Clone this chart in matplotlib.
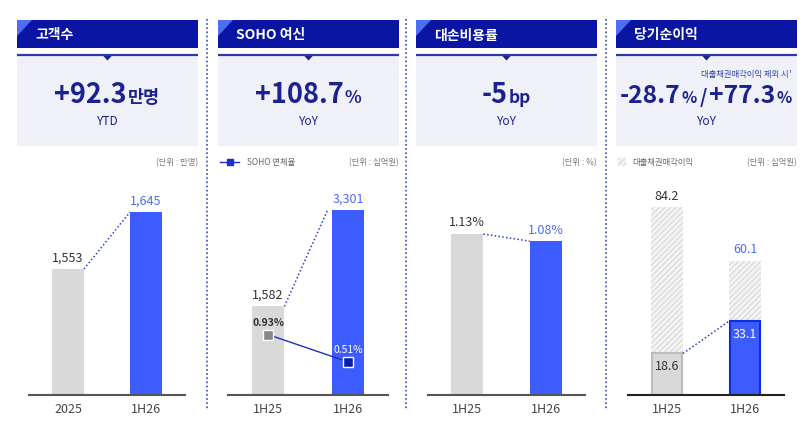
import matplotlib
matplotlib.use('Agg')
import matplotlib.pyplot as plt
from matplotlib.patches import Rectangle, Polygon

plt.rcParams['font.family'] = ['Noto Sans CJK KR', 'DejaVu Sans']
plt.rcParams['hatch.linewidth'] = 0.7

W, H, DPI = 805, 431, 100

# ---------------- data ----------------
titles = ['고객수', 'SOHO 여신', '대손비용률', '당기순이익']
units = ['(단위 : 만명)', '(단위 : 십억원)', '(단위 : %)', '(단위 : 십억원)']
headline_segments = [
    [('+92.3', 'big'), ('만명', 'small')],
    [('+108.7', 'big'), ('%', 'small')],
    [('-5', 'big'), ('bp', 'small')],
    [('-28.7', 'big'), ('%', 'small'), ('/', 'mid'), ('+77.3', 'big'), ('%', 'small')],
]
headline_scale = [1.0, 1.0, 1.0, 0.91]
headline_sub = ['YTD', 'YoY', 'YoY', 'YoY']
np_note = '대출채권매각이익 제외 시¹'

cust_cats = ['2025', '1H26']
cust_vals = [1553, 1645]
cust_labels = ['1,553', '1,645']

soho_cats = ['1H25', '1H26']
soho_vals = [1582, 3301]
soho_labels = ['1,582', '3,301']
soho_delinq = [0.93, 0.51]
soho_delinq_labels = ['0.93%', '0.51%']
soho_legend = 'SOHO 연체율'

credit_cats = ['1H25', '1H26']
credit_vals = [1.13, 1.08]
credit_labels = ['1.13%', '1.08%']

np_cats = ['1H25', '1H26']
np_total = [84.2, 60.1]
np_excl = [18.6, 33.1]
np_total_labels = ['84.2', '60.1']
np_excl_labels = ['18.6', '33.1']
np_legend = '대출채권매각이익'

# ---------------- style ----------------
HEADER = '#0a15a3'
CORNER = '#4c6ef5'
NAVY = '#1a2290'
LIGHTBOX = '#f0f1f8'
GRAY_BAR = '#d9d9d9'
BLUE_BAR = '#3d5cff'
BLUE_TXT = '#4a6cf7'
DARK_TXT = '#333333'
TICK_TXT = '#444444'
DOT_BLUE = '#2a3fd0'
HATCH_FACE = '#f4f4f4'
HATCH_EDGE = '#d3d3d3'

fig = plt.figure(figsize=(W / DPI, H / DPI), dpi=DPI)
fig.patch.set_facecolor('white')

bg = fig.add_axes([0, 0, 1, 1], zorder=-5)
bg.set_xlim(0, W)
bg.set_ylim(H, 0)
bg.axis('off')

panels_x = [(17, 198), (218, 399), (416, 597), (616, 797)]
seps = [207, 406, 606]

for sx in seps:
    bg.plot([sx, sx], [20, 410], color='#3344cc', lw=1.2, linestyle=(0, (1, 1.5)))

renderer = fig.canvas.get_renderer()
sizes = {'big': 19.5, 'small': 12.5, 'mid': 15}
pads = {'big': 0, 'small': 1, 'mid': 2}


def seg_text(segs, cx, base_y, color, scale):
    texts, widths = [], []
    for s, kind in segs:
        t = fig.text(0, 0, s, fontsize=sizes[kind] * scale, fontweight='bold', color=color,
                     ha='left', va='baseline')
        bb = t.get_window_extent(renderer)
        texts.append(t)
        widths.append(bb.width + 2 * pads[kind])
    total = sum(widths)
    x = cx - total / 2
    for t, w, (s, kind) in zip(texts, widths, segs):
        t.set_position(((x + pads[kind]) / W, 1 - base_y / H))
        x += w


for i, (l, r) in enumerate(panels_x):
    cx = (l + r) / 2
    bg.add_patch(Rectangle((l, 21), r - l, 28, color=HEADER, lw=0))
    bg.add_patch(Polygon([(l, 21), (l + 15, 21), (l, 37)], closed=True, color=CORNER, lw=0))
    bg.text(l + 18, 35.5, titles[i], color='white', fontsize=10, fontweight='bold',
            ha='left', va='center')
    bg.add_patch(Rectangle((l, 55), r - l, 92, color=LIGHTBOX, lw=0))
    bg.plot([l, r], [55.5, 55.5], color='#2b3aa8', lw=1.6, solid_capstyle='butt')
    bg.add_patch(Polygon([(cx - 6, 55), (cx + 6, 55), (cx, 61.5)], closed=True, color=NAVY, lw=0))
    seg_text(headline_segments[i], cx, 103, NAVY, headline_scale[i])
    bg.text(cx, 122, headline_sub[i], color=NAVY, fontsize=8.5, ha='center', va='center')
    bg.text(r, 163, units[i], color='#777777', fontsize=6, ha='right', va='center')

bg.text(panels_x[3][1] - 5, 75, np_note, color='#3344aa', fontsize=6, ha='right', va='center')

# legends
l2 = panels_x[1][0]
bg.plot([l2 + 2, l2 + 21], [163, 163], color='#1a30c8', lw=1)
bg.plot([l2 + 11.5], [163], marker='s', ms=5, color='#1a30c8')
bg.text(l2 + 29, 163, soho_legend, color='#666666', fontsize=6, ha='left', va='center')

l4 = panels_x[3][0]
bg.add_patch(Rectangle((l4 + 2, 159), 8, 8, facecolor=HATCH_FACE, edgecolor=HATCH_EDGE,
                       hatch='//////', lw=0))
bg.text(l4 + 16, 163, np_legend, color='#666666', fontsize=6, ha='left', va='center')

# ---------------- charts ----------------
chart_x = [(29, 185), (228, 388), (428, 585), (628, 784)]
base_y, top_y = 396, 190
BW = 0.41


def make_ax(i):
    l, r = chart_x[i]
    ax = fig.add_axes([l / W, (H - base_y) / H, (r - l) / W, (base_y - top_y) / H])
    ax.patch.set_alpha(0)
    for s in ['top', 'right', 'left']:
        ax.spines[s].set_visible(False)
    ax.spines['bottom'].set_color('#555555')
    ax.spines['bottom'].set_linewidth(1.5)
    ax.set_yticks([])
    ax.set_xlim(-0.5, 1.5)
    ax.tick_params(axis='x', length=0, pad=5, labelsize=9, labelcolor=TICK_TXT)
    return ax


def top_label(ax, x, y, s, color, dy=4):
    ax.annotate(s, (x, y), xytext=(0, dy), textcoords='offset points', ha='center',
                va='bottom', fontsize=9, color=color)


# panel 1
ax = make_ax(0)
ax.set_ylim(1350, 1682)
ax.bar([0, 1], cust_vals, width=BW, color=[GRAY_BAR, BLUE_BAR])
ax.set_xticks([0, 1], cust_cats)
ax.plot([BW / 2, 1 - BW / 2], cust_vals, color=DOT_BLUE, lw=1.1, linestyle=(0, (1, 1.5)))
top_label(ax, 0, cust_vals[0], cust_labels[0], DARK_TXT)
top_label(ax, 1, cust_vals[1], cust_labels[1], BLUE_TXT)

# panel 2
ax = make_ax(1)
ax.set_ylim(0, 3676)
ax.bar([0, 1], soho_vals, width=BW, color=[GRAY_BAR, BLUE_BAR])
ax.set_xticks([0, 1], soho_cats)
ax.plot([BW / 2, 1 - BW / 2 - 0.05], soho_vals, color=DOT_BLUE, lw=1.1, linestyle=(0, (1, 1.5)))
top_label(ax, 0, soho_vals[0], soho_labels[0], DARK_TXT)
top_label(ax, 1, soho_vals[1], soho_labels[1], BLUE_TXT)
ax2 = ax.twinx()
ax2.set_ylim(0, 3.17)
ax2.axis('off')
ax2.plot([0, 1], soho_delinq, color='#1a30c8', lw=1, zorder=3)
ax2.plot([0], [soho_delinq[0]], marker='s', ms=7, color='#888888', mec='white', mew=1, zorder=4)
ax2.plot([1], [soho_delinq[1]], marker='s', ms=7, color='#0a1fb0', mec='white', mew=1, zorder=4)
ax2.annotate(soho_delinq_labels[0], (0, soho_delinq[0]), xytext=(0, 9), textcoords='offset points',
             ha='center', va='center', fontsize=7.5, fontweight='bold', color=DARK_TXT)
ax2.annotate(soho_delinq_labels[1], (1, soho_delinq[1]), xytext=(0, 9), textcoords='offset points',
             ha='center', va='center', fontsize=7.5, color='white')

# panel 3
ax = make_ax(2)
ax.set_ylim(0, 1.446)
ax.bar([0, 1], credit_vals, width=BW, color=[GRAY_BAR, BLUE_BAR])
ax.set_xticks([0, 1], credit_cats)
ax.plot([BW / 2, 1 - BW / 2], credit_vals, color=DOT_BLUE, lw=1.1, linestyle=(0, (1, 1.5)))
top_label(ax, 0, credit_vals[0], credit_labels[0], DARK_TXT)
top_label(ax, 1, credit_vals[1], credit_labels[1], BLUE_TXT)

# panel 4
ax = make_ax(3)
ax.set_ylim(0, 92.3)
ax.spines['bottom'].set_color('#222222')
ax.bar([0, 1], np_total, width=BW, facecolor=HATCH_FACE, edgecolor=HATCH_EDGE, hatch='//////', lw=0)
ax.bar([0, 1], np_excl, width=BW - 0.02, color=[GRAY_BAR, BLUE_BAR],
       edgecolor=['#bdbdbd', '#0a2ee0'], lw=1.5)
ax.set_xticks([0, 1], np_cats)
ax.plot([BW / 2, 1 - BW / 2], np_excl, color=DOT_BLUE, lw=1.1, linestyle=(0, (1, 1.5)))
top_label(ax, 0, np_total[0], np_total_labels[0], DARK_TXT)
top_label(ax, 1, np_total[1], np_total_labels[1], BLUE_TXT)
for x, v, s, c in zip([0, 1], np_excl, np_excl_labels, [DARK_TXT, 'white']):
    ax.annotate(s, (x, v), xytext=(0, -9), textcoords='offset points', ha='center',
                va='center', fontsize=9, color=c)

fig.savefig('out.png', dpi=DPI)
